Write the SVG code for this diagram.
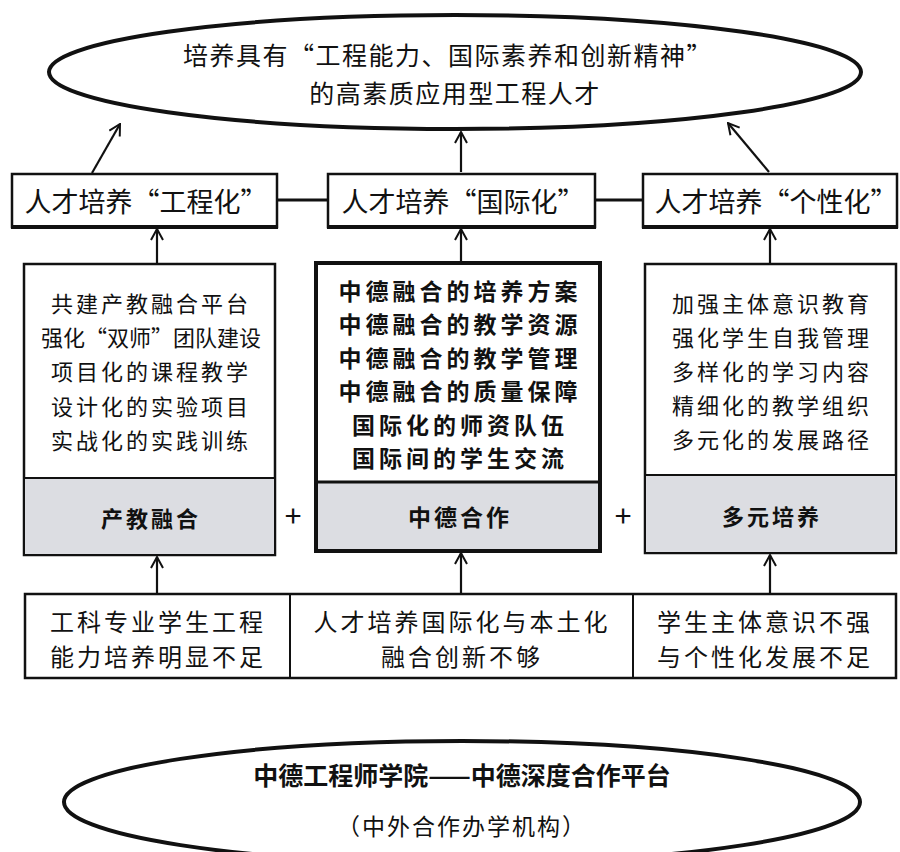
<svg xmlns="http://www.w3.org/2000/svg" width="900" height="852" viewBox="0 0 900 852">
<style>
.t{font-family:"Noto Sans CJK SC","Noto Sans CJK JP",sans-serif;fill:#111;text-anchor:middle;dominant-baseline:central}
.box{fill:#fff;stroke:#111;stroke-width:2.5}
.grey{fill:#dcdde2;stroke:#111;stroke-width:2}
.b{font-weight:bold}
.con{stroke:#111;stroke-width:2.2;fill:none}
</style>
<defs>
<marker id="ah" viewBox="0 0 14 14" refX="13" refY="7" markerWidth="14" markerHeight="14" markerUnits="userSpaceOnUse" orient="auto">
<path d="M2,1 L13,7 L2,13" fill="none" stroke="#111" stroke-width="2"/>
</marker>
</defs>
<rect width="900" height="852" fill="#fff"/>

<g id="goal">
<ellipse cx="455" cy="72" rx="406" ry="57" fill="#fff" stroke="#111" stroke-width="4"/>
<text class="t" x="448" y="54" font-size="25" letter-spacing="1.5">培养具有“工程能力、国际素养和创新精神”</text>
<text class="t" x="455" y="92" font-size="25" letter-spacing="1.5">的高素质应用型工程人才</text>
</g>

<g id="connectors">
<line class="con" x1="92" y1="173" x2="120" y2="124" marker-end="url(#ah)"/>
<line class="con" x1="461" y1="172" x2="461" y2="132" marker-end="url(#ah)"/>
<line class="con" x1="769" y1="172" x2="728" y2="123" marker-end="url(#ah)"/>
<line x1="277" y1="200" x2="328" y2="200" stroke="#111" stroke-width="3"/>
<line x1="595" y1="200" x2="643" y2="200" stroke="#111" stroke-width="3"/>
<line class="con" x1="157" y1="263" x2="157" y2="229" marker-end="url(#ah)"/>
<line class="con" x1="461" y1="262" x2="461" y2="229" marker-end="url(#ah)"/>
<line class="con" x1="770" y1="263" x2="770" y2="229" marker-end="url(#ah)"/>
<line class="con" x1="157" y1="593" x2="157" y2="557" marker-end="url(#ah)"/>
<line class="con" x1="461" y1="593" x2="461" y2="553" marker-end="url(#ah)"/>
<line class="con" x1="770" y1="593" x2="770" y2="555" marker-end="url(#ah)"/>
</g>

<g id="eng">
<rect class="box" x="12" y="174" width="265" height="53"/>
<line x1="11" y1="227" x2="278" y2="227" stroke="#111" stroke-width="4"/>
<text class="t" x="146" y="200" font-size="27">人才培养“工程化”</text>
</g>
<g id="intl">
<rect class="box" x="328" y="174" width="267" height="53"/>
<line x1="327" y1="227" x2="596" y2="227" stroke="#111" stroke-width="4"/>
<text class="t" x="463" y="200" font-size="27">人才培养“国际化”</text>
</g>
<g id="indiv">
<rect class="box" x="643" y="174" width="254" height="53"/>
<line x1="642" y1="227" x2="898" y2="227" stroke="#111" stroke-width="4"/>
<text class="t" x="776" y="200" font-size="27">人才培养“个性化”</text>
</g>

<g id="chanjiao">
<rect class="box" x="24" y="264" width="251" height="291"/>
<rect class="grey" x="24" y="478" width="251" height="77"/>
<g class="t" font-size="22" letter-spacing="3">
<text x="151" y="302">共建产教融合平台</text>
<text x="151" y="336" letter-spacing="0">强化“双师”团队建设</text>
<text x="151" y="370">项目化的课程教学</text>
<text x="151" y="405">设计化的实验项目</text>
<text x="151" y="439">实战化的实践训练</text>
</g>
<text class="t b" x="151" y="517" font-size="22" letter-spacing="3">产教融合</text>
</g>
<text class="t" x="293" y="514" font-size="30">+</text>

<g id="zhongde">
<rect x="316" y="263" width="284" height="288" fill="#fff" stroke="#111" stroke-width="4"/>
<rect x="316" y="482" width="284" height="69" fill="#dcdde2" stroke="#111" stroke-width="3"/>
<rect x="316" y="263" width="284" height="288" fill="none" stroke="#111" stroke-width="4"/>
<g class="t b" font-size="23" letter-spacing="4">
<text x="460" y="290">中德融合的培养方案</text>
<text x="460" y="323">中德融合的教学资源</text>
<text x="460" y="357">中德融合的教学管理</text>
<text x="460" y="390">中德融合的质量保障</text>
<text x="460" y="424">国际化的师资队伍</text>
<text x="460" y="457">国际间的学生交流</text>
</g>
<text class="t b" x="460" y="516" font-size="23" letter-spacing="3">中德合作</text>
</g>
<text class="t" x="623" y="514" font-size="30">+</text>

<g id="duoyuan">
<rect class="box" x="645" y="264" width="251" height="289"/>
<rect class="grey" x="645" y="475" width="251" height="78"/>
<g class="t" font-size="22" letter-spacing="3">
<text x="772" y="302">加强主体意识教育</text>
<text x="772" y="336">强化学生自我管理</text>
<text x="772" y="370">多样化的学习内容</text>
<text x="772" y="404">精细化的教学组织</text>
<text x="772" y="438">多元化的发展路径</text>
</g>
<text class="t b" x="772" y="515" font-size="22" letter-spacing="3">多元培养</text>
</g>

<g id="problems">
<rect class="box" x="25" y="594" width="871" height="84"/>
<line x1="290" y1="594" x2="290" y2="678" stroke="#111" stroke-width="2"/>
<line x1="633" y1="594" x2="633" y2="678" stroke="#111" stroke-width="2"/>
<g class="t" font-size="24" letter-spacing="3">
<text x="158" y="620">工科专业学生工程</text>
<text x="158" y="655">能力培养明显不足</text>
<text x="462" y="620">人才培养国际化与本土化</text>
<text x="462" y="655">融合创新不够</text>
<text x="765" y="620">学生主体意识不强</text>
<text x="765" y="655">与个性化发展不足</text>
</g>
</g>

<g id="platform">
<ellipse cx="462" cy="802" rx="398" ry="61" fill="#fff" stroke="#111" stroke-width="4"/>
<text class="t b" x="462" y="774" font-size="25">中德工程师学院——中德深度合作平台</text>
<text class="t" x="462" y="825" font-size="23" letter-spacing="2">（中外合作办学机构）</text>
</g>
</svg>
